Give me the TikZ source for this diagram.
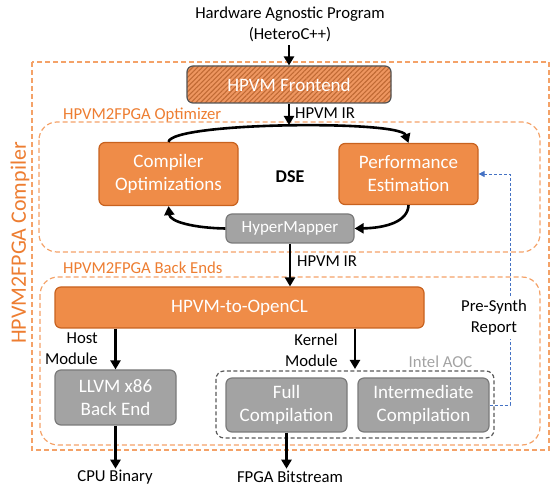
\documentclass[tikz,border=0pt]{standalone}
\usepackage{fontspec}
\setmainfont{Carlito}
\usetikzlibrary{arrows.meta,patterns.meta,calc}
\definecolor{ofill}{HTML}{EF8C48}
\definecolor{oline}{HTML}{C8621F}
\definecolor{odash}{HTML}{F4A268}
\definecolor{otext}{HTML}{ED7D31}
\definecolor{gfill}{HTML}{A3A3A3}
\definecolor{gline}{HTML}{7A7A7A}
\definecolor{bline}{HTML}{4472C4}
\definecolor{hatchbg}{HTML}{EE9660}
\definecolor{hatchln}{HTML}{C06A34}
\tikzset{
  basebox/.style={rounded corners=6pt, line width=1.2pt, text=white, align=center,
    font=\fontsize{19}{23}\selectfont, inner sep=0pt},
  obox/.style={basebox, fill=ofill, draw=oline},
  gbox/.style={basebox, fill=gfill, draw=gline},
  lbl/.style={font=\fontsize{16.7}{21}\selectfont, inner sep=0pt, align=center},
  olbl/.style={lbl, text=otext, anchor=west},
  arr/.style={line width=2.6pt, -{Triangle[length=9pt,width=10pt]}},
  odashed/.style={draw=odash, line width=1.2pt, dash pattern=on 5pt off 3pt},
  bluedash/.style={draw=bline, line width=0.9pt, dash pattern=on 3pt off 2pt},
}
\begin{document}
\begin{tikzpicture}[x=1pt,y=-1pt]
\useasboundingbox (0,0) rectangle (555,486);

% containers
\draw[odashed] (32,62) rectangle (549,450);
\draw[odashed, rounded corners=18pt] (39,122) rectangle (540,252);
\draw[odashed, rounded corners=18pt] (40,277) rectangle (540,445);
\draw[draw=gray!70!black, line width=1.2pt, dash pattern=on 4pt off 2.5pt, rounded corners=8pt] (216,371) rectangle (494,438);

% labels of containers
\node[rotate=90, text=otext, font=\fontsize{22}{26}\selectfont, inner sep=0pt] (comptitle) at (20,243) {HPVM2FPGA Compiler};
\node[olbl] (optlbl) at (63,115) {HPVM2FPGA Optimizer};
\node[olbl] (belbl) at (63,268) {HPVM2FPGA Back Ends};
\node[lbl, text=gfill] (aoclbl) at (440.5,362) {Intel AOC};

% title
\node[lbl] (title) at (290,24) {Hardware Agnostic Program\\(HeteroC++)};

% boxes
\node[basebox, draw=gray!65!black, preaction={fill=hatchbg},
      pattern={Lines[angle=45, distance=3.4pt, line width=1.1pt]}, pattern color=hatchln,
      minimum width=204pt, minimum height=37pt] (fe) at (289,84.5) {HPVM Frontend};
\node[obox, minimum width=139pt, minimum height=63pt] (comp) at (168.5,174) {Compiler\\Optimizations};
\node[obox, minimum width=139pt, minimum height=61pt] (perf) at (408.5,174) {Performance\\Estimation};
\node[gbox, minimum width=128pt, minimum height=29pt, font=\fontsize{17}{20}\selectfont] (hyper) at (290,228.5) {HyperMapper};
\node[font=\fontsize{18}{22}\selectfont\bfseries, inner sep=0pt] (dse) at (290,177) {DSE};

\node[obox, minimum width=369pt, minimum height=41pt] (ocl) at (239.5,307.5) {HPVM-to-OpenCL};
\node[gbox, minimum width=121pt, minimum height=55pt] (llvm) at (115.5,397.5) {LLVM x86\\Back End};
\node[gbox, minimum width=121pt, minimum height=54pt] (full) at (286.5,405) {Full\\Compilation};
\node[gbox, minimum width=131pt, minimum height=54pt] (inter) at (423.5,405) {Intermediate\\Compilation};

% edge labels
\node[lbl, anchor=west] (ir1) at (295,113) {HPVM IR};
\node[lbl, anchor=west] (ir2) at (297,261) {HPVM IR};
\node[lbl, align=right, anchor=east] (host) at (98,348.5) {Host\\Module};
\node[lbl, align=right, anchor=east] (kern) at (338,350) {Kernel\\Module};
\node[lbl, inner sep=4pt] (ps) at (494,317.5) {Pre-Synth\\Report};
\node[lbl, inner sep=1pt] (cpu) at (115,477) {CPU Binary};
\node[lbl, inner sep=1pt] (fpga) at (290,477) {FPGA Bitstream};

% connectors
\coordinate (tstart) at (290,46);
\coordinate (arctop) at (289,125);
\coordinate (bx) at (510,0);
\draw[arr] (tstart) -- (fe.south |- tstart) -- (fe.north);
\draw[arr] (fe.south) -- (arctop);
\draw[arr] (comp.north) .. controls (172,122) and (400,120) .. (perf.north);
\draw[arr] (perf.south) .. controls (408,222) and (385,228) .. (hyper.east);
\draw[arr] (hyper.west) .. controls (195,228) and (170,222) .. (comp.south);
\draw[arr] (hyper.south) -- (ocl.north -| hyper.south);
\draw[arr] (ocl.south -| llvm.north) -- (llvm.north);
\draw[arr] (ocl.south -| 355,0) -- (355,369);
\draw[arr] (llvm.south) -- (cpu.north -| llvm.south);
\draw[arr] (full.south) -- (full.south |- cpu.north);

% pre-synth feedback
\draw[bluedash] (inter.east) -| (bx |- ps.south);
\draw[bluedash, -{Triangle[length=6pt,width=6pt]}] (bx |- ps.north) |- (perf.east);
\end{tikzpicture}
\end{document}
